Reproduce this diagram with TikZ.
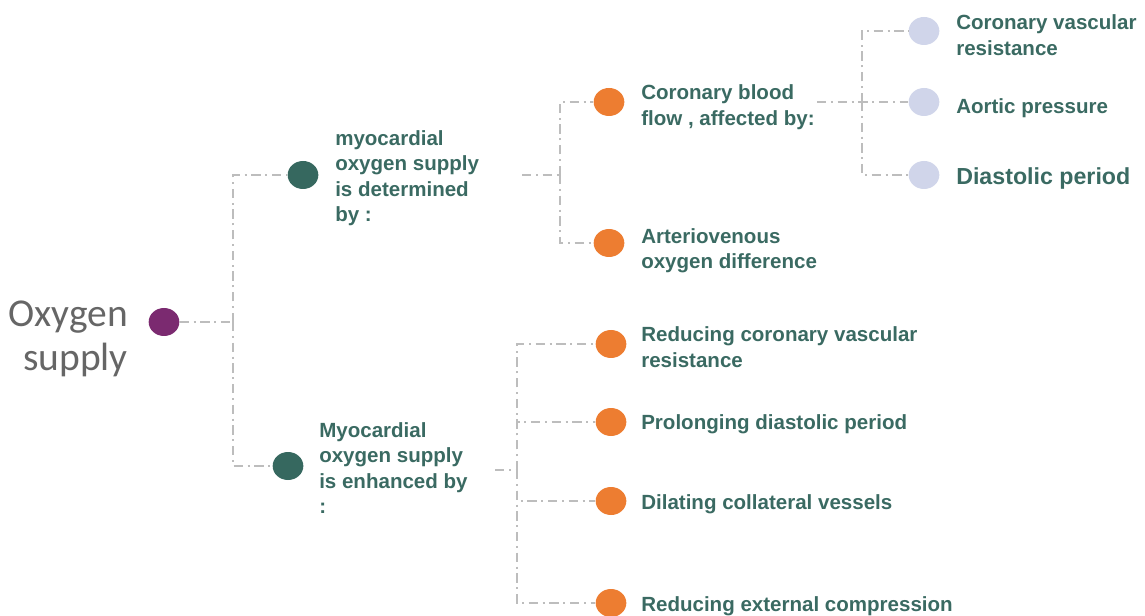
\documentclass[tikz,border=0pt]{standalone}
\usepackage{fontspec}
\setmainfont{Liberation Sans}
\newfontfamily\rootfont{Carlito}
\usetikzlibrary{shapes.geometric}
\definecolor{rootPurple}{HTML}{7B2A70}
\definecolor{darkTeal}{HTML}{36685F}
\definecolor{accOrange}{HTML}{ED7D31}
\definecolor{paleBlue}{HTML}{D0D5EA}
\definecolor{tagText}{HTML}{3A6A62}
\definecolor{linkGray}{HTML}{BDBDBD}
\tikzset{
    dot/.style={ellipse,minimum width=23pt,minimum height=21pt,inner sep=0pt},
    tag/.style={anchor=west,align=left,inner sep=0pt,text=tagText,font=\bfseries\fontsize{15.4}{19.1}\selectfont},
    link/.style={draw=linkGray,line width=1.4pt,dash pattern=on 7pt off 3.5pt on 1.5pt off 3.5pt}
}
\newcommand{\myDot}[4]{%
    \node[dot,fill=#4] (#3) at (#1,#2) {};
}
\newcommand{\myTag}[4]{%
    \node[tag] (#3) at (#1,#2) {#4};
}

\begin{document}
\begin{tikzpicture}[x=0.75pt,y=-0.75pt]
    \useasboundingbox (0,0) rectangle (1145,616);
    %root
    \node[anchor=east,align=right,inner sep=0pt,text=black!60,font=\rootfont\fontsize{29.6}{33}\selectfont] (rootText) at (128,339) {Oxygen\\supply};
    \myDot{164}{322}{root}{rootPurple}
    %level1
    \myDot{303}{175}{mA}{darkTeal}
    \myTag{335}{178}{tA}{myocardial\\oxygen supply\\is determined\\by :}
    \myDot{288}{466}{mB}{darkTeal}
    \myTag{319}{468}{tB}{Myocardial\\oxygen supply\\is enhanced by\\:}
    %level2
    \myDot{609}{102}{cA}{accOrange}
    \myTag{641}{107}{tcA}{Coronary blood\\flow , affected by:}
    \myDot{609}{243}{cB}{accOrange}
    \myTag{641}{251}{tcB}{Arteriovenous\\oxygen difference}
    \myDot{611}{344}{dA}{accOrange}
    \myTag{641}{347}{tdA}{Reducing coronary vascular\\resistance}
    \myDot{611}{422}{dB}{accOrange}
    \myTag{641}{424}{tdB}{Prolonging diastolic period}
    \myDot{611}{501}{dC}{accOrange}
    \myTag{641}{504}{tdC}{Dilating collateral vessels}
    \myDot{611}{603}{dD}{accOrange}
    \myTag{641}{606}{tdD}{Reducing external compression}
    %level3
    \myDot{924}{31}{eA}{paleBlue}
    \myTag{956}{35}{teA}{Coronary vascular\\resistance}
    \myDot{924}{102}{eB}{paleBlue}
    \myTag{956}{108}{teB}{Aortic pressure}
    \myDot{924}{175}{eC}{paleBlue}
    \node[tag,font=\bfseries\fontsize{17.4}{20}\selectfont] (teC) at (956,179) {Diastolic period};
    %joints
    \coordinate (j1) at (233,322);
    \coordinate (s1) at (522,175);
    \coordinate (j2) at (560,175);
    \coordinate (s2) at (495,470);
    \coordinate (j3) at (517,470);
    \coordinate (s3) at (817,102);
    \coordinate (j4) at (862,102);
    %E1
    \draw[link] (root) -- (j1);
    \draw[link] (j1) |- (mA);
    \draw[link] (j1) |- (mB);
    %E2
    \draw[link] (s1) -- (j2);
    \draw[link] (j2) |- (cA);
    \draw[link] (j2) |- (cB);
    \draw[link] (s2) -- (j3);
    \draw[link] (j3) |- (dA);
    \draw[link] (j3) |- (dB);
    \draw[link] (j3) |- (dC);
    \draw[link] (j3) |- (dD);
    %E3
    \draw[link] (s3) -- (eB);
    \draw[link] (j4) |- (eA);
    \draw[link] (j4) |- (eC);
\end{tikzpicture}
\end{document}
